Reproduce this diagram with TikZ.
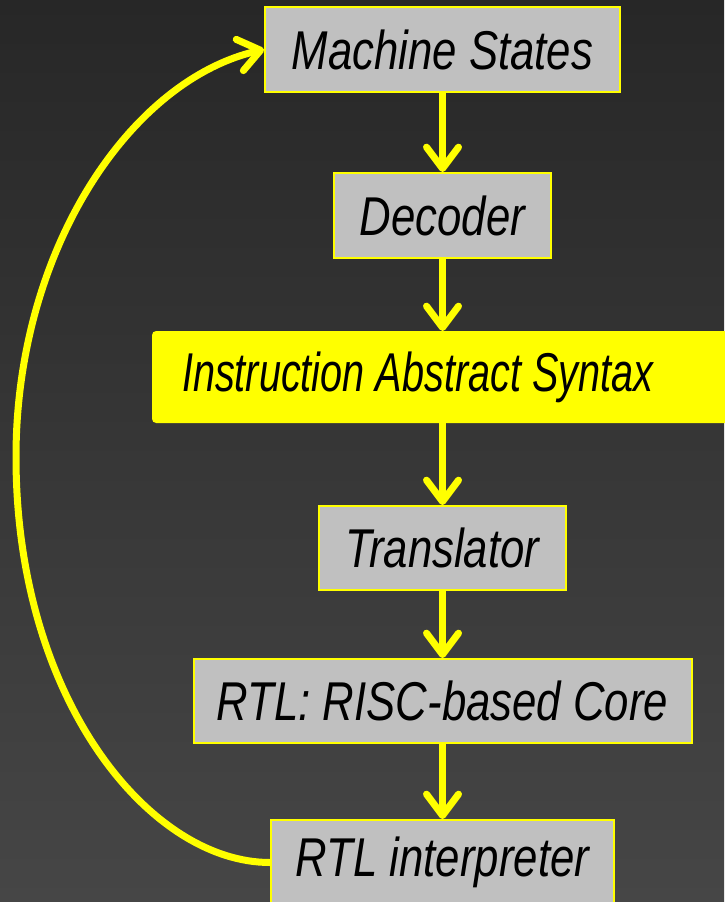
\documentclass[tikz,border=0pt]{standalone}
\usepackage{fontspec}
\newfontfamily\boxfont[FakeStretch=0.80]{Liberation Sans}
\newfontfamily\tightfont[FakeStretch=0.725]{Liberation Sans}
\usepackage{tikz}
\usetikzlibrary{arrows.meta}
\definecolor{cBgTop}{HTML}{272727}
\definecolor{cBgBot}{HTML}{464646}
\definecolor{cBox}{HTML}{C0C0C0}
\definecolor{cFlow}{HTML}{FFFF00}

\begin{document}
\begin{tikzpicture}[
  x=0.75pt,y=0.75pt,
  stage/.style={draw=cFlow,line width=1.5pt,fill=cBox,inner sep=0pt,
    minimum height=63.75pt,font=\boxfont\itshape\fontsize{41}{44}\selectfont},
  syntax/.style={stage,fill=cFlow,rounded corners=2.5pt,minimum height=67.5pt,
    inner xsep=21.75pt,font=\tightfont\itshape\fontsize{41}{44}\selectfont},
  flow/.style={draw=cFlow,line width=5.25pt,
    -{Straight Barb[length=16pt,width=24pt,round]}}]

% background, fixes the page size
\shade[top color=cBgTop,bottom color=cBgBot] (0,0) rectangle (724,-902);
\useasboundingbox (0,0) rectangle (724,-902);

%============================ pipeline ============================
\node[stage,minimum width=266.25pt] (ms) at (442.5,-49.5) {Machine States};
\node[stage,minimum width=162.75pt] (dec) at (442.5,-215.5) {Decoder};
\node[syntax] (ias) at (442.5,-377)
  {\makebox[390.75pt][l]{Instruction Abstract Syntax}};
\node[stage,minimum width=185.25pt,minimum height=63pt] (trans) at (442.5,-548) {Translator};
\node[stage,minimum width=373.5pt,minimum height=63pt] (core) at (442.5,-701) {RTL: RISC-based Core};
\node[stage,minimum width=257.25pt] (interp) at (442.5,-862.5) {RTL interpreter};

\draw[flow] (ms) -- (dec);
\draw[flow] (dec) -- (ias);
\draw[flow] (ias) -- (trans);
\draw[flow] (trans) -- (core);
\draw[flow] (core) -- (interp);

% feedback loop back to the machine states
\coordinate (turn) at (16,-457);
\draw[flow] (interp.west) .. controls (150,-862.5) and (16,-700) .. (turn)
  .. controls (16,-250) and (130,-80) .. (ms.west);

\end{tikzpicture}
\end{document}
